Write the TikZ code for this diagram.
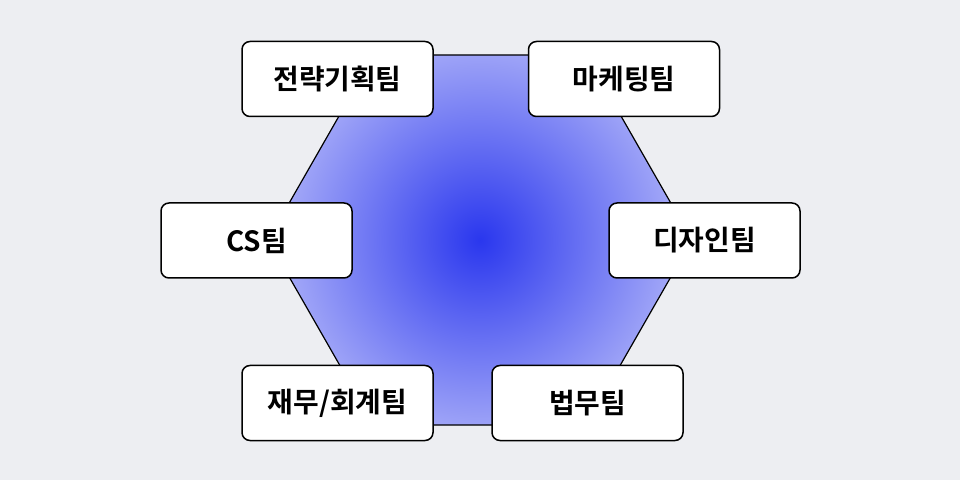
\documentclass[tikz,border=0pt]{standalone}
\usepackage{fontspec}
\newfontfamily\kr{Noto Sans CJK KR Bold}
\begin{document}
\begin{tikzpicture}[x=1bp,y=-1bp,
  team/.style={draw=black,line width=1.5bp,fill=white,rounded corners=8bp,minimum width=191bp,minimum height=75bp,font=\kr\fontsize{28}{30}\selectfont,inner sep=0pt}]
\definecolor{bg}{HTML}{EDEEF2}
\definecolor{hc}{HTML}{2A37EE}
\definecolor{hm}{HTML}{8E95F6}
\definecolor{he}{HTML}{C4C7FA}
\fill[bg] (0,0) rectangle (960,480);
\begin{scope}
\clip (268,240)--(374,55)--(586,55)--(692,240)--(586,425)--(374,425)--cycle;
\shade[inner color=hc,outer color=he] (480,240) circle (250);
\end{scope}
\draw[line width=1.2bp] (268,240)--(374,55)--(586,55)--(692,240)--(586,425)--(374,425)--cycle;
\node[team] (a) at (337.5,79) {전략기획팀};
\node[team] (b) at (624,79) {마케팅팀};
\node[team] (c) at (256.5,240.5) {CS팀};
\node[team] (d) at (704.5,240.5) {디자인팀};
\node[team] (e) at (337.5,403) {재무/회계팀};
\node[team] (f) at (587.5,403) {법무팀};
\end{tikzpicture}
\end{document}
